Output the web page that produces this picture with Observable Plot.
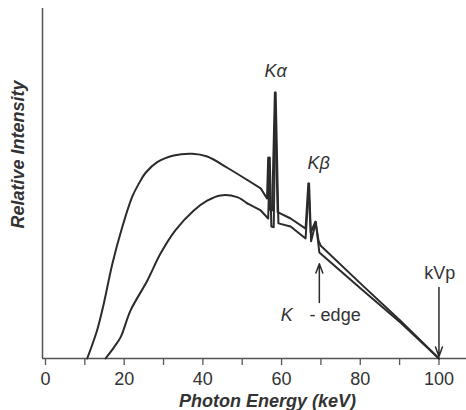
<!DOCTYPE html>
<html>
<head>
<meta charset="utf-8">
<script src="https://cdn.jsdelivr.net/npm/d3@7"></script>
<script src="https://cdn.jsdelivr.net/npm/@observablehq/plot@0.6"></script>
<style>
  html, body { margin: 0; padding: 0; background: #fff; }
</style>
</head>
<body>
<div id="chart"></div>
<script>
// ---- data ----
const energyTicks = [0, 10, 20, 30, 40, 50, 60, 70, 80, 90, 100];
const energyLabels = [0, 20, 40, 60, 80, 100];
const xDomain = [-0.76, 107];
const yDomain = [0, 100];

// upper spectrum (less filtration)
const upperEnergy = [10.6, 13.1, 14.8, 17.0, 19.5, 22.0, 23.7, 25.4, 28.4, 32.6, 37.3, 41.1, 46.2, 51.3, 54.7, 56.3, 56.6, 57.0, 57.6, 58.3, 59.0, 62.3, 66.1, 66.8, 67.4, 68.6, 69.4, 69.9, 80.1, 90.2, 100];
const upperIntensity = [0, 8.0, 15.6, 27.1, 37.5, 46.1, 49.9, 53.0, 56.1, 58.0, 58.5, 57.7, 54.5, 51.0, 48.6, 45.7, 57.4, 42.5, 42.3, 76, 41.8, 40.0, 37.1, 50, 36.0, 39.1, 33.7, 32.3, 21.4, 10.8, 0];

// lower spectrum (more filtration)
const lowerEnergy = [15.25, 17.4, 19.1, 21.6, 25.9, 29.2, 33.0, 37.7, 41.1, 44.5, 48.7, 51.3, 54.7, 56.6, 57.0, 57.4, 58.0, 58.5, 59.2, 62.3, 66.1, 67.0, 67.5, 68.7, 69.6, 80.1, 90.2, 100];
const lowerIntensity = [0, 3.2, 6.1, 13.7, 22.3, 29.9, 36.6, 42.3, 45.1, 46.6, 46.1, 44.3, 42.3, 40.0, 57.4, 37.7, 37.5, 76, 38.6, 37.7, 34.3, 50, 33.5, 39.0, 30.3, 20.0, 10.3, 0];

// point where the smooth continuum gives way to the straight/spiky part
const upperSmoothEnd = 13;
const lowerSmoothEnd = 11;

// annotations
const peakLabels = ["Kα", "Kβ"];
const peakLabelEnergy = [58.5, 69.4];
const peakLabelIntensity = [82, 55.7];
const kvpLabel = "kVp";
const kvpEnergy = 100.2;
const kvpIntensity = 24.3;
const edgeLabelK = "K";
const edgeLabelRest = "- edge";
const edgeLabelEnergyStart = 59.8;
const edgeLabelEnergyEnd = 80.1;
const edgeLabelIntensity = 12.3;
const arrowsE1 = [69.6, 100];
const arrowsI1 = [16.0, 20.3];
const arrowsE2 = [69.6, 100];
const arrowsI2 = [27.1, 0.6];
const xLabel = "Photon Energy (keV)";
const yLabel = "Relative Intensity";

const upper = upperEnergy.map((e, i) => ({e, v: upperIntensity[i]}));
const lower = lowerEnergy.map((e, i) => ({e, v: lowerIntensity[i]}));
const peaks = peakLabels.map((t, i) => ({t, e: peakLabelEnergy[i], v: peakLabelIntensity[i]}));
const arrows = arrowsE1.map((e, i) => ({x1: e, y1: arrowsI1[i], x2: arrowsE2[i], y2: arrowsI2[i]}));

const font = "'Liberation Sans', Arial, Helvetica, sans-serif";
const ink = "#2b2b2b";
const axisInk = "#555";
const lineStyle = {x: "e", y: "v", stroke: ink, strokeWidth: 2, strokeLinejoin: "round"};

const plot = Plot.plot({
  width: 466,
  height: 410,
  marginTop: 8,
  marginBottom: 52,
  marginLeft: 42,
  marginRight: 0,
  style: {fontFamily: font, fontSize: "18px", color: "#333", background: "#fff"},
  x: {domain: xDomain, axis: null},
  y: {domain: yDomain, axis: null},
  marks: [
    Plot.axisX({ticks: energyTicks, tickSize: 7, tickFormat: () => "", stroke: axisInk, strokeWidth: 1.3, label: null}),
    Plot.axisX({ticks: energyLabels, tickSize: 0, tickPadding: 14, fontSize: 18, fill: "#333", label: null}),
    Plot.ruleY([yDomain[0]], {stroke: axisInk, strokeWidth: 1.5}),
    Plot.ruleX([xDomain[0]], {stroke: axisInk, strokeWidth: 1.5}),
    Plot.line(upper.slice(0, upperSmoothEnd + 1), {...lineStyle, curve: "catmull-rom"}),
    Plot.line(upper.slice(upperSmoothEnd), {...lineStyle, curve: "linear"}),
    Plot.line(lower.slice(0, lowerSmoothEnd + 1), {...lineStyle, curve: "catmull-rom"}),
    Plot.line(lower.slice(lowerSmoothEnd), {...lineStyle, curve: "linear"}),
    Plot.arrow(arrows, {x1: "x1", y1: "y1", x2: "x2", y2: "y2", stroke: ink, strokeWidth: 1.5, headLength: 10, headAngle: 40}),
    Plot.text(peaks, {x: "e", y: "v", text: "t", fontSize: 18, fontStyle: "italic", fill: "#333", lineAnchor: "middle"}),
    Plot.text([kvpLabel], {x: kvpEnergy, y: kvpIntensity, text: d => d, fontSize: 18, fill: "#333", lineAnchor: "middle"}),
    Plot.text([edgeLabelK], {x: edgeLabelEnergyStart, y: edgeLabelIntensity, text: d => d, fontSize: 18, fontStyle: "italic", fill: "#333", textAnchor: "start", lineAnchor: "middle"}),
    Plot.text([edgeLabelRest], {x: edgeLabelEnergyEnd, y: edgeLabelIntensity, text: d => d, fontSize: 18, fill: "#333", textAnchor: "end", lineAnchor: "middle", dx: 0}),
    Plot.text([xLabel], {frameAnchor: "bottom", text: d => d, dx: 13, dy: 43, fontSize: 18, fontWeight: "bold", fontStyle: "italic", fill: "#333", textAnchor: "middle", lineAnchor: "middle"}),
    Plot.text([yLabel], {frameAnchor: "left", text: d => d, rotate: -90, dx: -24, dy: -29, fontSize: 18, fontWeight: "bold", fontStyle: "italic", fill: "#333", textAnchor: "middle", lineAnchor: "middle"})
  ]
});
document.getElementById("chart").appendChild(plot);
</script>
</body>
</html>
